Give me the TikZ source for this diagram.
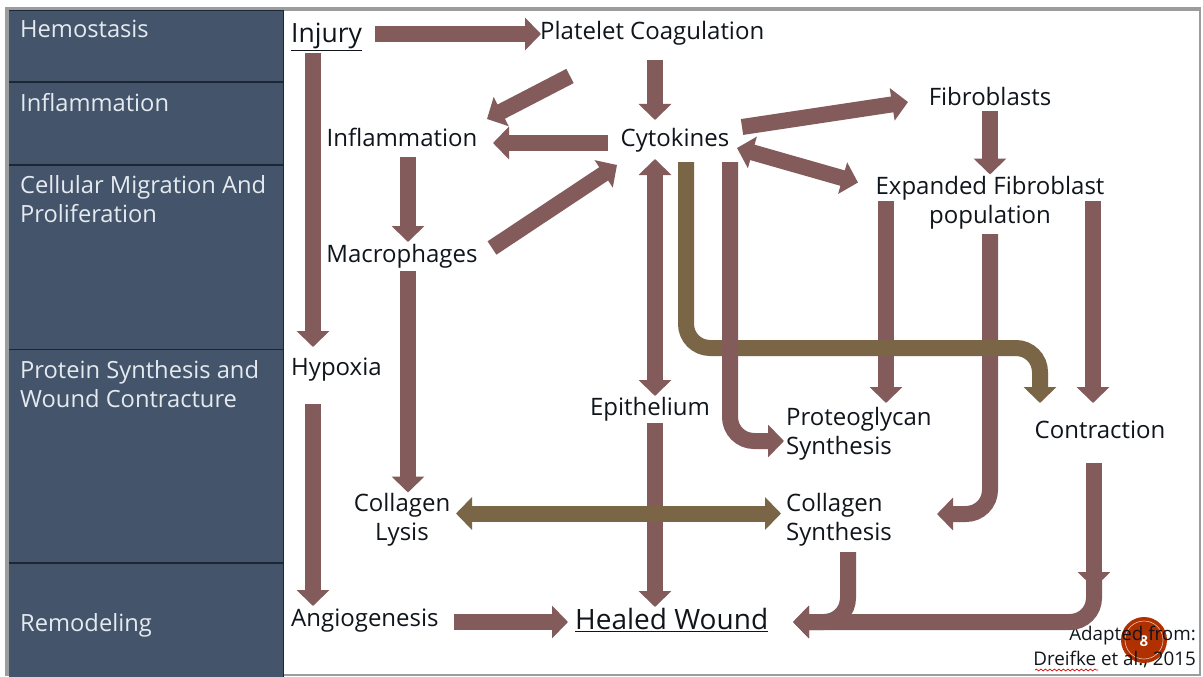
\documentclass[tikz,border=0pt]{standalone}
\usepackage{fontspec}
\setmainfont{Open Sans}
\usetikzlibrary{arrows.meta,decorations.pathmorphing}
\definecolor{brn}{HTML}{845B5B}
\definecolor{olv}{HTML}{7A6647}
\definecolor{pnl}{HTML}{44546A}
\definecolor{sepc}{HTML}{1B2735}
\definecolor{ink}{HTML}{10151C}
\definecolor{plab}{HTML}{E4EAF0}
\definecolor{frm}{HTML}{9A9C9E}
\definecolor{badge}{HTML}{B03000}
\tikzset{
 x=1pt,y=-1pt,
 lab/.style={inner sep=0pt,text=ink,font=\fontsize{24}{29}\selectfont},
 big/.style={inner sep=0pt,text=ink,font=\fontsize{26.5}{29}\selectfont},
 bigger/.style={inner sep=0pt,text=ink,font=\fontsize{28}{29}\selectfont},
 side/.style={inner sep=0pt,anchor=west,align=left,text=plab,font=\fontsize{23.7}{29}\selectfont},
 note/.style={inner sep=0pt,anchor=east,text=ink,font=\fontsize{18.8}{24}\selectfont},
 blk/.style={draw=brn,line width=16pt,-{Triangle[width=32pt,length=16pt,fill=brn]},rounded corners=24pt},
 blkd/.style={draw=brn,line width=16pt,{Triangle[width=32pt,length=16pt,fill=brn]}-{Triangle[width=32pt,length=16pt,fill=brn]}},
 olvd/.style={draw=olv,line width=16pt,{Triangle[width=32pt,length=16pt,fill=olv]}-{Triangle[width=32pt,length=16pt,fill=olv]}},
 olva/.style={draw=olv,line width=16pt,-{Triangle[width=32pt,length=16pt,fill=olv]},rounded corners=24pt},
}
\begin{document}
\begin{tikzpicture}
\useasboundingbox (0,0) rectangle (1203,677);
\fill[white] (0,0) rectangle (1203,677);
\fill[frm] (5,7) rectangle (1201,676);
\fill[white] (283,11) rectangle (1199,674);
\fill[pnl] (9,10) rectangle (283,677);
\draw[sepc,line width=1.4pt] (9,10.5) -- (283,10.5);
\draw[sepc,line width=1.4pt] (9,82) -- (283,82);
\draw[sepc,line width=1.4pt] (9,165) -- (283,165);
\draw[sepc,line width=1.4pt] (9,349.5) -- (283,349.5);
\draw[sepc,line width=1.4pt] (9,563) -- (283,563);
\draw[sepc,line width=1pt] (283,10) -- (283,677);
% side labels
\node[side] (s1) at (20,29) {Hemostasis};
\node[side] (s2) at (20,103) {Inflammation};
\node[side] (s3) at (20,199.5) {Cellular Migration And\\Proliferation};
\node[side] (s4) at (20,384.5) {Protein Synthesis and\\Wound Contracture};
\node[side] (s5) at (20,625) {Remodeling};
% badge
\fill[badge] (1144,640) circle (23);
\draw[white,line width=0.6pt,opacity=.7] (1144,640) circle (19);
\node[inner sep=0pt,text=white,font=\bfseries\fontsize{15}{15}\selectfont] (badgenum) at (1144,641) {8};
% nodes
\node[big,anchor=west] (inj) at (291,37) {\underline{Injury}};
\node[lab,anchor=west] (plt) at (540,33) {Platelet Coagulation};
\node[lab] (inf) at (402,137) {Inflammation};
\node[lab] (cyt) at (675,140) {Cytokines};
\node[lab] (fib) at (990,97) {Fibroblasts};
\node[lab,align=center] (exp) at (990,202.5) {Expanded Fibroblast\\population};
\node[lab] (mac) at (402,256) {Macrophages};
\node[lab,anchor=west] (hyp) at (291,370) {Hypoxia};
\node[lab] (epi) at (650,409) {Epithelium};
\node[lab,anchor=west,align=left] (pro) at (786,433.5) {Proteoglycan\\Synthesis};
\node[lab] (con) at (1100,430) {Contraction};
\node[lab,align=center] (lys) at (402,519.5) {Collagen\\Lysis};
\node[lab,anchor=west,align=left] (syn) at (786,519.5) {Collagen\\Synthesis};
\node[lab,anchor=west] (ang) at (291,621) {Angiogenesis};
\node[bigger,anchor=west] (hea) at (575,620) {\underline{Healed Wound}};
\node[note] (ad1) at (1196,636) {Adapted from:};
\node[note] (ad2) at (1196,660) {Dreifke et al., 2015};
\draw[red!85!black,line width=0.7pt,decorate,decoration={snake,amplitude=0.9pt,segment length=4.5pt}] ([shift={(-161,10)}]ad2.east) -- ([shift={(-98,10)}]ad2.east);
% connectors
\draw[blk] ([shift={(84,-3)}]inj.west) -- ([shift={(1,1)}]plt.west);
\draw[blk] ([shift={(22,16)}]inj.west) -- ([shift={(22,-23)}]hyp.west);
\draw[blk] ([shift={(30,43)}]plt.west) -- ([shift={(85,-18)}]inf.center);
\draw[blk] ([shift={(115,27)}]plt.west) -- ([shift={(-20,-20)}]cyt.center);
\draw[blk] ([shift={(-67,3)}]cyt.center) -- ([shift={(91,6)}]inf.center);
\draw[blk] ([shift={(90,-8)}]mac.center) -- ([shift={(-58,25)}]cyt.center);
\draw[blk] ([shift={(6,20)}]inf.center) -- ([shift={(6,-14)}]mac.center);
\draw[blk] ([shift={(6,15)}]mac.center) -- ([shift={(6,-27)}]lys.center);
\draw[blk] ([shift={(22,34)}]hyp.west) -- ([shift={(22,-15)}]ang.west);
\draw[blkd] ([shift={(-20,19)}]cyt.center) -- ([shift={(5,-13)}]epi.center);
\draw[blk] ([shift={(5,14)}]epi.center) -- ([shift={(80,-13)}]hea.west);
\draw[blk] ([shift={(163,1)}]ang.west) -- ([shift={(-7,2)}]hea.west);
\draw[blk] ([shift={(67,-13)}]cyt.center) -- ([shift={(-82,5)}]fib.center);
\draw[blk] ([shift={(0,14)}]fib.center) -- ([shift={(0,-28)}]exp.center);
\draw[blkd] ([shift={(62,8)}]cyt.center) -- ([shift={(-132,-20)}]exp.center);
\draw[blk] ([shift={(-104,-1.5)}]exp.center) -- ([shift={(100,-30.5)}]pro.west);
\draw[blk] ([shift={(103,-1.5)}]exp.center) -- ([shift={(-7,-27)}]con.center);
\draw[blk] ([shift={(0,31.5)}]exp.center) -- ++(0,280) -- ([shift={(151,-5.5)}]syn.west);
\draw[olva] ([shift={(11,22)}]cyt.center) -- ++(0,186) -- ++(354,0) -- ([shift={(-60,-27)}]con.center);
\draw[blk] ([shift={(55,22)}]cyt.center) -- ++(0,279) -- ([shift={(-2,7.5)}]pro.west);
\draw[olvd] ([shift={(54,-6)}]lys.center) -- ([shift={(-5,-6)}]syn.west);
\draw[blk] ([shift={(-6,33)}]con.center) -- ([shift={(-6,158)}]con.center);
\draw[blk] ([shift={(-6,145)}]con.center) -- ++(0,47) -- ([shift={(218,2)}]hea.west);
\draw[blk] ([shift={(62,32.5)}]syn.west) -- ++(0,70) -- ([shift={(218,2)}]hea.west);
\end{tikzpicture}
\end{document}
